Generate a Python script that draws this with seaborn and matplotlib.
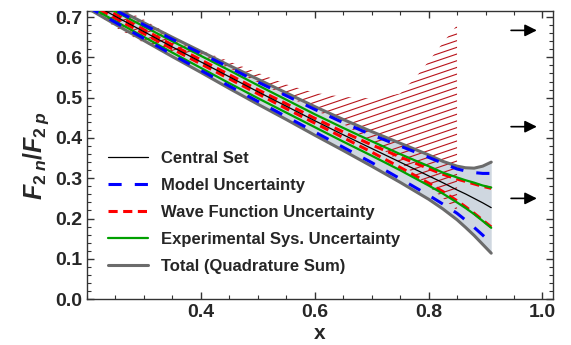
import numpy as np
import pandas as pd
import matplotlib
matplotlib.use('Agg')
import matplotlib.pyplot as plt
import seaborn as sns
from matplotlib.ticker import MultipleLocator

# values
x_grid = [0.20, 0.25, 0.30, 0.35, 0.40, 0.45, 0.50, 0.55, 0.60, 0.65, 0.70, 0.75, 0.80, 0.825, 0.85, 0.865, 0.88, 0.895, 0.91]
central = [0.741, 0.702, 0.664, 0.626, 0.589, 0.552, 0.515, 0.479, 0.443, 0.408, 0.374, 0.340, 0.306, 0.289, 0.271, 0.261, 0.250, 0.239, 0.227]
total_hi = [0.759, 0.722, 0.686, 0.650, 0.615, 0.580, 0.546, 0.512, 0.478, 0.446, 0.416, 0.387, 0.358, 0.342, 0.330, 0.326, 0.325, 0.330, 0.340]
total_lo = [0.723, 0.682, 0.642, 0.602, 0.563, 0.523, 0.484, 0.446, 0.407, 0.369, 0.330, 0.290, 0.248, 0.224, 0.197, 0.178, 0.158, 0.136, 0.114]
model_hi = [0.755, 0.717, 0.681, 0.645, 0.610, 0.575, 0.539, 0.505, 0.471, 0.438, 0.408, 0.380, 0.352, 0.337, 0.323, 0.318, 0.314, 0.312, 0.312]
model_lo = [0.727, 0.687, 0.647, 0.607, 0.568, 0.529, 0.491, 0.453, 0.415, 0.377, 0.339, 0.299, 0.258, 0.236, 0.213, 0.196, 0.178, 0.159, 0.139]
exp_hi = [0.752, 0.714, 0.677, 0.640, 0.604, 0.568, 0.531, 0.495, 0.459, 0.425, 0.392, 0.360, 0.330, 0.314, 0.302, 0.295, 0.289, 0.282, 0.277]
exp_lo = [0.730, 0.690, 0.651, 0.612, 0.574, 0.536, 0.499, 0.463, 0.427, 0.391, 0.356, 0.320, 0.282, 0.262, 0.240, 0.226, 0.211, 0.194, 0.177]
wave_hi = [0.746, 0.707, 0.669, 0.631, 0.594, 0.557, 0.520, 0.485, 0.449, 0.415, 0.383, 0.353, 0.324, 0.310, 0.298, 0.292, 0.286, 0.280, 0.275]
wave_lo = [0.736, 0.697, 0.659, 0.621, 0.584, 0.547, 0.510, 0.473, 0.437, 0.401, 0.365, 0.327, 0.288, 0.267, 0.244, 0.229, 0.213, 0.196, 0.179]

# hatched band
hatch_x = [0.20, 0.25, 0.30, 0.35, 0.40, 0.45, 0.50, 0.55, 0.60, 0.65, 0.70, 0.75, 0.78, 0.80, 0.83, 0.85]
hatch_hi = [0.757, 0.730, 0.694, 0.652, 0.618, 0.590, 0.562, 0.533, 0.512, 0.502, 0.498, 0.510, 0.555, 0.590, 0.645, 0.680]
hatch_lo = [0.725, 0.675, 0.636, 0.615, 0.604, 0.572, 0.538, 0.505, 0.470, 0.435, 0.392, 0.340, 0.305, 0.280, 0.245, 0.220]

arrow_y = [0.667, 0.428, 0.250]

sns.set_style('ticks')
plt.rcParams['font.family'] = ['Liberation Sans', 'DejaVu Sans']
plt.rcParams['font.weight'] = 'bold'
plt.rcParams['mathtext.fontset'] = 'custom'
plt.rcParams['mathtext.it'] = 'Liberation Sans:italic:bold'
plt.rcParams['mathtext.rm'] = 'Liberation Sans:bold'

fig = plt.figure(figsize=(5.71, 3.45), dpi=100)
ax = fig.add_axes([0.152, 0.133, 0.816, 0.835])

ax.fill_between(x_grid, total_lo, total_hi, color='#cfd7e0', lw=0, zorder=1)

# hatch lines clipped to the hatched band
poly = ax.fill_between(hatch_x, hatch_lo, hatch_hi, facecolor='none', edgecolor='none')
clip = poly.get_paths()[0]
hx = np.array([0.15, 0.9])
for y0 in np.arange(-0.6, 1.0, 0.0166):
    ln, = ax.plot(hx, y0 + 0.48 * (hx - 0.2), color='#b8141b', lw=0.8, zorder=2)
    ln.set_clip_path(clip, transform=ax.transData)

gray = '#6b6b6b'
sns.lineplot(x=x_grid, y=total_hi, ax=ax, color=gray, lw=2.2, zorder=3, label='Total (Quadrature Sum)')
sns.lineplot(x=x_grid, y=total_lo, ax=ax, color=gray, lw=2.2, zorder=3)
sns.lineplot(x=x_grid, y=wave_hi, ax=ax, color='#ff0000', lw=2.2, linestyle=(0, (3.0, 1.8)), zorder=4,
             label='Wave Function Uncertainty')
sns.lineplot(x=x_grid, y=wave_lo, ax=ax, color='#ff0000', lw=2.2, linestyle=(0, (3.0, 1.8)), zorder=4)
sns.lineplot(x=x_grid, y=exp_hi, ax=ax, color='#00a000', lw=1.6, zorder=5, label='Experimental Sys. Uncertainty')
sns.lineplot(x=x_grid, y=exp_lo, ax=ax, color='#00a000', lw=1.6, zorder=5)
sns.lineplot(x=x_grid, y=model_hi, ax=ax, color='#0000ff', lw=2.2, linestyle=(0, (4.3, 4.3)), zorder=6,
             label='Model Uncertainty')
sns.lineplot(x=x_grid, y=model_lo, ax=ax, color='#0000ff', lw=2.2, linestyle=(0, (4.3, 4.3)), zorder=6)
sns.lineplot(x=x_grid, y=central, ax=ax, color='black', lw=0.9, zorder=7, label='Central Set')

for y in arrow_y:
    ax.annotate('', xy=(0.995, y), xytext=(0.94, y),
                arrowprops=dict(arrowstyle='-|>', color='black', lw=1.2, mutation_scale=18))

ax.set_xlim(0.2, 1.018)
ax.set_ylim(0.0, 0.715)
ax.set_xticks([0.4, 0.6, 0.8, 1.0])
ax.set_yticks(np.arange(0, 0.71, 0.1))
ax.xaxis.set_minor_locator(MultipleLocator(0.05))
ax.yaxis.set_minor_locator(MultipleLocator(0.02))
ax.tick_params(which='both', direction='in', top=True, right=True, labelsize=14, color='#333333')
ax.tick_params(which='major', length=5, width=1)
ax.tick_params(which='minor', length=3, width=0.8)
for lab in ax.get_xticklabels() + ax.get_yticklabels():
    lab.set_fontweight('bold')
for s in ax.spines.values():
    s.set_visible(True)
    s.set_color('#333333')
    s.set_linewidth(1.0)

ax.set_xlabel('x', fontsize=15, fontweight='bold', labelpad=2)
ax.set_ylabel(r'$F_{2\;n}/F_{2\;p}$', fontsize=18, labelpad=3)

handles, labels = ax.get_legend_handles_labels()
order = ['Central Set', 'Model Uncertainty', 'Wave Function Uncertainty',
         'Experimental Sys. Uncertainty', 'Total (Quadrature Sum)']
hmap = dict(zip(labels, handles))
ax.legend([hmap[k] for k in order], order, loc='center left', bbox_to_anchor=(0.028, 0.30),
          frameon=False, handlelength=2.4, handletextpad=0.78, labelspacing=0.72,
          borderpad=0, prop={'weight': 'bold', 'size': 12})

fig.savefig('out.png', dpi=100)
